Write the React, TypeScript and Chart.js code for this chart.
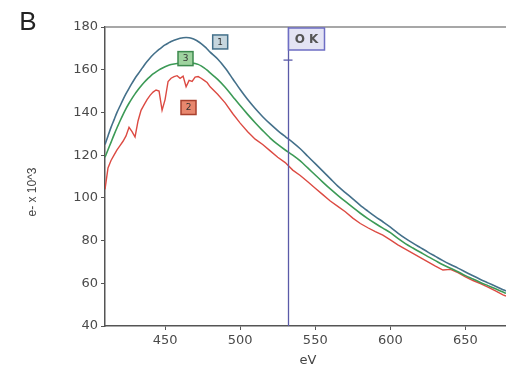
import { useEffect, useRef } from "react";
import { Chart, registerables } from "chart.js";

Chart.register(...registerables);

// ---- data ----
const energyEV = [
  410, 412, 414, 416, 418, 420, 422, 424, 426, 428, 430, 432, 434, 436, 438, 440, 442, 444,
  446, 448, 450, 452, 454, 456, 458, 460, 462, 464, 466, 468, 470, 472, 474, 476, 478, 480,
  485, 490, 495, 500, 505, 510, 515, 520, 525, 530, 535, 540, 545, 550, 555, 560, 565, 570,
  575, 580, 585, 590, 595, 600, 605, 610, 615, 620, 625, 630, 635, 640, 645, 650, 655, 660,
  665, 670, 675, 677,
];

// spectrum 1 (blue)
const spectrum1 = [
  125, 129, 133, 136.5, 140, 143, 146, 148.8, 151.3, 153.7, 156, 158, 160, 162, 163.8, 165.5,
  167, 168.3, 169.5, 170.6, 171.6, 172.4, 173.2, 173.8, 174.3, 174.7, 175, 175.1, 175, 174.6,
  174, 173.2, 172.2, 171, 169.7, 168.2,
  165, 160.8, 155.8, 150.7, 146, 141.8, 138, 134.6, 131.5, 128.7, 126, 123, 119.5, 116, 112.5,
  109, 105.5, 102.5, 99.5, 96.5, 93.8, 91.2, 88.8, 86.3, 83.5, 81, 78.8, 76.7, 74.6, 72.6, 70.6,
  68.8, 67.1, 65.3, 63.5, 61.8, 60.2, 58.6, 57, 56.4,
];

// spectrum 3 (green)
const spectrum3 = [
  119, 122.5, 126, 129.5, 132.8, 136, 139, 141.8, 144.3, 146.6, 148.7, 150.6, 152.4, 154,
  155.5, 156.8, 158, 159, 159.9, 160.7, 161.4, 162, 162.4, 162.7, 162.9, 163, 163.1, 163.2,
  163.2, 163.1, 162.9, 162.5, 161.8, 160.9, 159.8, 158.5,
  155.5, 151.8, 147.5, 143.2, 139.1, 135.2, 131.5, 128, 125, 122.4, 120, 117.3, 114, 110.7, 107.4,
  104.2, 101.2, 98.3, 95.5, 92.8, 90.3, 88, 85.8, 83.7, 81, 78.6, 76.5, 74.5, 72.5, 70.6, 68.7,
  67, 65.4, 63.6, 62, 60.4, 58.9, 57.4, 55.9, 55.3,
];

// spectrum 2 (red)
const spectrum2 = [
  104, 114, 117.5, 120, 122.5, 124.5, 126.5, 129, 133, 131, 128.5, 136, 141, 143.5, 146, 148,
  149.5, 150.5, 150, 141, 146, 154.5, 156, 156.8, 157.2, 156, 157, 152, 155, 154.5, 156.5, 156.8,
  156, 155, 154, 152,
  148.5, 144.5, 139.5, 135, 131, 127.5, 125, 122, 119, 116.5, 113, 110.5, 107.5, 104.5,
  101.5, 98.5, 96, 93.5, 90.5, 88, 86, 84.2, 82.5, 80.3, 78, 76, 74, 72, 70, 68, 66.2, 66.5, 65,
  63, 61.3, 59.8, 58.2, 56.4, 54.6, 54,
];

const seriesNames = ["1", "2", "3"];
const edgeEV = 532;
const edgeLevel = 164.5;
const edgeLabel = "O K";
const panelLetter = "B";
const xTitle = "eV";
const yTitle = "e- x 10^3";
const xMin = 410;
const xMax = 677;
const yMin = 40;
const yMax = 180;

const BLUE = "#44708a";
const GREEN = "#3c9a56";
const RED = "#dc4a42";

const overlayPlugin = {
  id: "overlay",
  afterDatasetsDraw(chart: any) {
    const { ctx, chartArea, scales } = chart;
    const xs = scales.x;
    const ys = scales.y;
    ctx.save();

    // top frame line
    ctx.strokeStyle = "#8a8a8a";
    ctx.lineWidth = 1.5;
    ctx.beginPath();
    ctx.moveTo(chartArea.left, chartArea.top);
    ctx.lineTo(chartArea.right, chartArea.top);
    ctx.stroke();

    // edge marker line
    const ex = Math.round(xs.getPixelForValue(edgeEV)) + 0.5;
    ctx.strokeStyle = "#5b5ba8";
    ctx.lineWidth = 1.3;
    ctx.beginPath();
    ctx.moveTo(ex, chartArea.top);
    ctx.lineTo(ex, chartArea.bottom);
    ctx.stroke();
    const ly = ys.getPixelForValue(edgeLevel);
    ctx.beginPath();
    ctx.moveTo(ex - 5, ly);
    ctx.lineTo(ex + 4, ly);
    ctx.stroke();

    // edge label box
    const bx = ex;
    const by = chartArea.top + 1;
    const bw = 36;
    const bh = 22;
    ctx.fillStyle = "#e4e4f4";
    ctx.fillRect(bx, by, bw, bh);
    ctx.strokeStyle = "#6e6ec4";
    ctx.lineWidth = 1.5;
    ctx.strokeRect(bx, by, bw, bh);
    ctx.fillStyle = "#555";
    ctx.font = "bold 12px 'DejaVu Sans'";
    ctx.textAlign = "center";
    ctx.textBaseline = "middle";
    ctx.fillText(edgeLabel, bx + bw / 2, by + bh / 2 + 1);

    // series markers
    const markers = [
      { t: seriesNames[0], ev: 486.7, v: 173, fill: "#c6d6de", stroke: BLUE },
      { t: seriesNames[2], ev: 463.6, v: 165.2, fill: "#9fd39f", stroke: "#3d8a4e" },
      { t: seriesNames[1], ev: 465.6, v: 142.3, fill: "#e8876e", stroke: "#a8402e" },
    ];
    for (const m of markers) {
      const cx = xs.getPixelForValue(m.ev);
      const cy = ys.getPixelForValue(m.v);
      const w = 15;
      const h = 14;
      ctx.fillStyle = m.fill;
      ctx.fillRect(cx - w / 2, cy - h / 2, w, h);
      ctx.strokeStyle = m.stroke;
      ctx.lineWidth = 1.5;
      ctx.strokeRect(cx - w / 2, cy - h / 2, w, h);
      ctx.fillStyle = "#333";
      ctx.font = "9px 'DejaVu Sans'";
      ctx.fillText(m.t, cx, cy + 0.5);
    }

    // panel letter
    ctx.fillStyle = "#222";
    ctx.font = "26px 'Liberation Sans'";
    ctx.fillText(panelLetter, 28, 23);

    // axis titles
    ctx.fillStyle = "#444";
    ctx.font = "13px 'DejaVu Sans'";
    ctx.fillText(xTitle, 308, 361);
    ctx.save();
    ctx.translate(33, 192);
    ctx.rotate(-Math.PI / 2);
    ctx.font = "12px 'Liberation Sans'";
    ctx.fillText(yTitle, 0, 0);
    ctx.restore();

    ctx.restore();
  },
};

export default function App() {
  const ref = useRef<HTMLCanvasElement | null>(null);

  useEffect(() => {
    if (!ref.current) return;
    const mk = (vals: number[]) => energyEV.map((x, i) => ({ x, y: vals[i] }));
    const chart = new Chart(ref.current, {
      type: "line",
      data: {
        datasets: [
          { label: seriesNames[0], data: mk(spectrum1), borderColor: BLUE, borderWidth: 1.6, pointRadius: 0, tension: 0.3 },
          { label: seriesNames[2], data: mk(spectrum3), borderColor: GREEN, borderWidth: 1.6, pointRadius: 0, tension: 0.3 },
          { label: seriesNames[1], data: mk(spectrum2), borderColor: RED, borderWidth: 1.4, pointRadius: 0, tension: 0 },
        ],
      },
      options: {
        animation: false,
        responsive: false,
        devicePixelRatio: 1,
        layout: { padding: { top: 27, right: 0, left: 0, bottom: 0 } },
        plugins: { legend: { display: false }, tooltip: { enabled: false } },
        scales: {
          x: {
            type: "linear",
            min: xMin,
            max: xMax,
            afterFit: (s: any) => { s.height = 47; },
            border: { display: true, color: "#555", width: 1.5 },
            grid: { drawOnChartArea: false, drawTicks: true, tickLength: 4, color: "#555" },
            ticks: { stepSize: 50, includeBounds: false, color: "#4a4a4a", font: { family: "DejaVu Sans", size: 13 }, padding: 3, maxRotation: 0 },
          },
          y: {
            min: yMin,
            max: yMax,
            afterFit: (s: any) => { s.width = 105; },
            border: { display: true, color: "#555", width: 1.5 },
            grid: { drawOnChartArea: false, drawTicks: true, tickLength: 4, color: "#555" },
            ticks: { stepSize: 20, color: "#4a4a4a", font: { family: "DejaVu Sans", size: 13 }, padding: 3 },
          },
        },
      },
      plugins: [overlayPlugin],
    } as any);
    return () => chart.destroy();
  }, []);

  return (
    <div style={{ position: "absolute", left: 0, top: 0, width: 506, height: 373, background: "#fff" }}>
      <canvas ref={ref} width={506} height={373} style={{ width: 506, height: 373 }} />
    </div>
  );
}
